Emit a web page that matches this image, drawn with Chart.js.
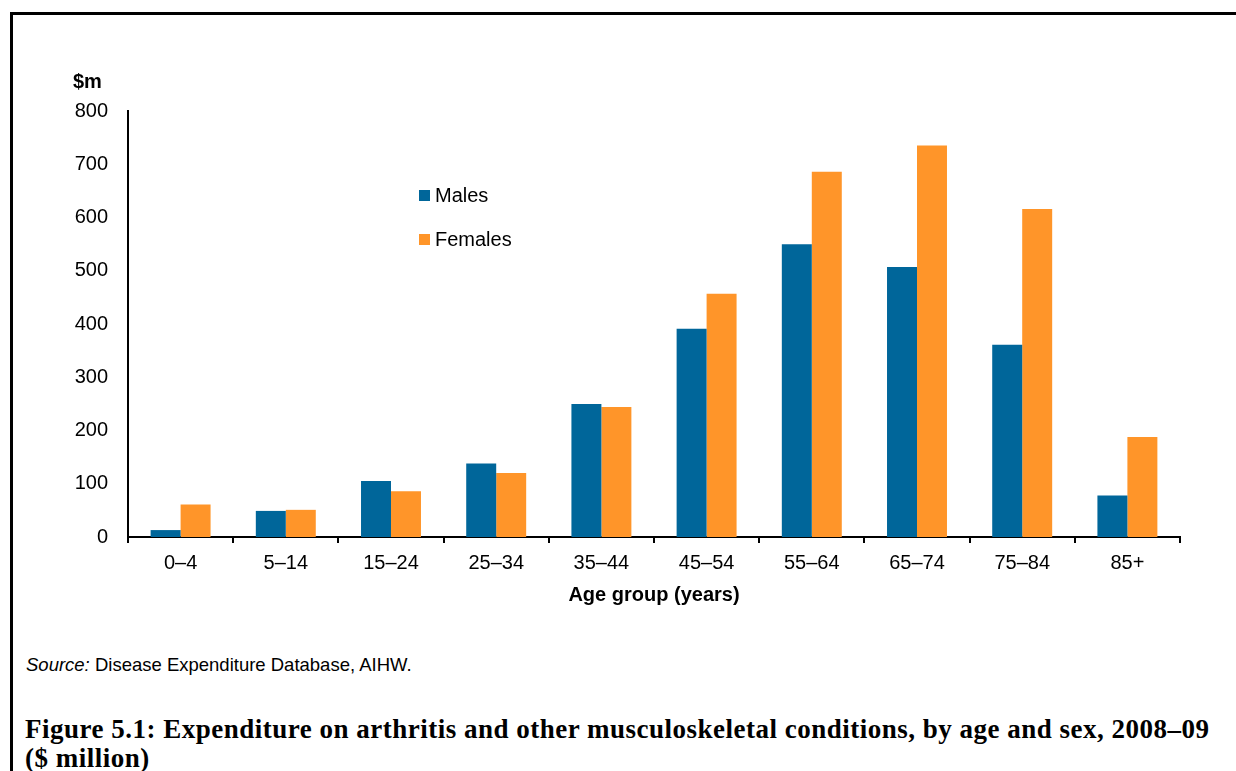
<!DOCTYPE html>
<html>
<head>
<meta charset="utf-8">
<script src="https://cdn.jsdelivr.net/npm/chart.js@4"></script>
<style>
  body { margin: 0; background: #fff; }
  #page { position: relative; width: 1236px; height: 771px; overflow: hidden; font-family: "Liberation Sans", Arial, sans-serif; color: #000; }
  #frame { position: absolute; left: 10px; top: 12px; width: 1300px; height: 800px; border-top: 3px solid #000; border-left: 3px solid #000; }
  #chart-wrap { position: absolute; left: 0; top: 0; width: 1236px; height: 617px; }
  #unit { position: absolute; left: 73px; top: 70px; font-weight: bold; font-size: 20px; }
  .legend { position: absolute; left: 419px; font-size: 20px; line-height: 22px; }
  .legend span { display: inline-block; width: 11px; height: 11px; margin-right: 5px; vertical-align: 1px; }
  #source { position: absolute; left: 26px; top: 655px; font-size: 18.5px; line-height: 20px; }
  #caption { position: absolute; left: 25px; top: 715px; width: 1200px; font-family: "Liberation Serif", serif; font-weight: bold; font-size: 27px; line-height: 29px; letter-spacing: 0.5px; }
</style>
</head>
<body>
<div id="page">
  <div id="frame"></div>
  <div id="chart-wrap"><canvas id="salesChart"></canvas></div>
  <div id="unit">$m</div>
  <div class="legend" style="top:184px"><span style="background:#00669A"></span>Males</div>
  <div class="legend" style="top:228px"><span style="background:#FF9529"></span>Females</div>
  <div id="source"><i>Source:</i> Disease Expenditure Database, AIHW.</div>
  <div id="caption">Figure 5.1: Expenditure on arthritis and other musculoskeletal conditions, by age and sex, 2008–09 ($ million)</div>
</div>
<script>
// data
const ageGroups = ['0–4', '5–14', '15–24', '25–34', '35–44', '45–54', '55–64', '65–74', '75–84', '85+'];
const males = [13, 49, 105, 138, 250, 391, 550, 507, 361, 78];
const females = [61, 51, 86, 120, 244, 457, 686, 735, 616, 188];

const ctx = document.getElementById('salesChart').getContext('2d');
const font = { family: '"Liberation Sans", Arial, sans-serif', size: 20 };

new Chart(ctx, {
  type: 'bar',
  data: {
    labels: ageGroups,
    datasets: [
      { label: 'Males', data: males, backgroundColor: '#00669A', categoryPercentage: 0.57, barPercentage: 1 },
      { label: 'Females', data: females, backgroundColor: '#FF9529', categoryPercentage: 0.57, barPercentage: 1 }
    ]
  },
  options: {
    responsive: true,
    maintainAspectRatio: false,
    animation: false,
    layout: { padding: { left: 0, top: 111, right: 56, bottom: 0 } },
    plugins: { legend: { display: false }, tooltip: { enabled: false } },
    scales: {
      x: {
        grid: { display: true, drawOnChartArea: false, drawTicks: true, tickLength: 6, color: '#000', lineWidth: 2 },
        border: { display: true, color: '#000', width: 2 },
        ticks: { color: '#000', font: font, padding: 8, maxRotation: 0 },
        title: { display: true, text: 'Age group (years)', color: '#000', font: { family: font.family, size: 20, weight: 'bold' }, padding: { top: 4, bottom: 10 } },
        afterFit: s => { s.height = 80; }
      },
      y: {
        min: 0, max: 800,
        grid: { display: false, drawTicks: false },
        border: { display: true, color: '#000', width: 2 },
        ticks: { stepSize: 100, color: '#000', font: font, padding: 20 },
        afterFit: s => { s.width = 128; }
      }
    }
  }
});
</script>
</body>
</html>
